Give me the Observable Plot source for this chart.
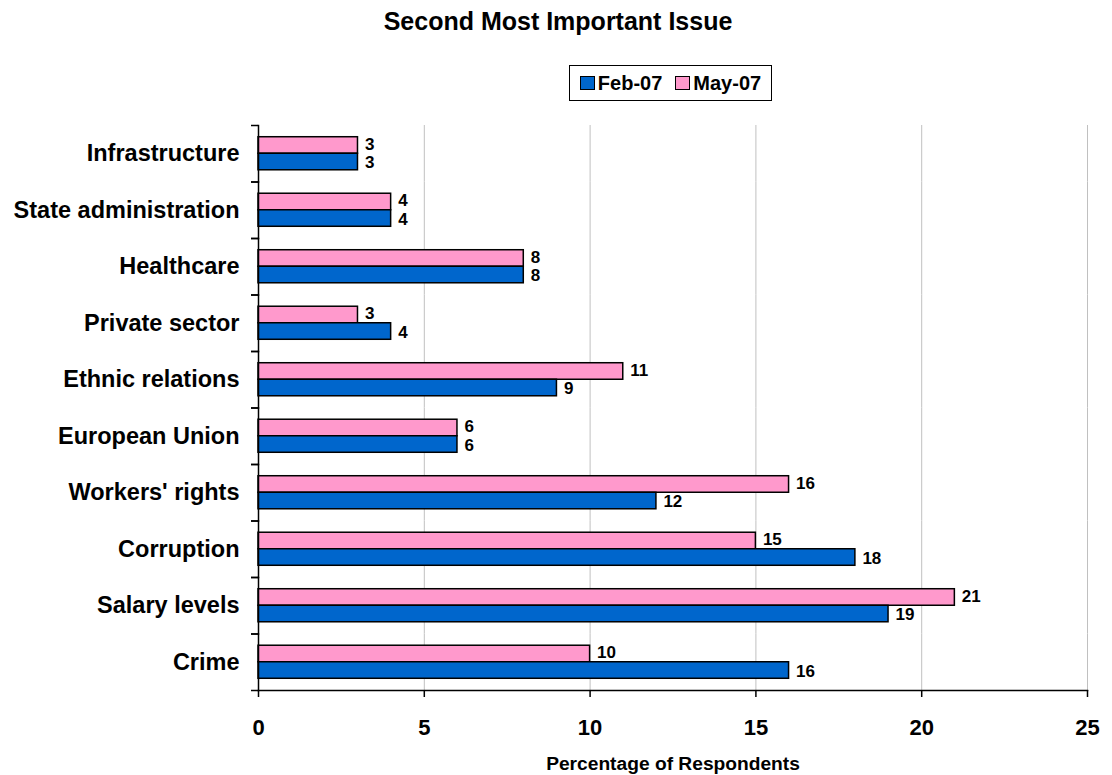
<!DOCTYPE html>
<html>
<head>
<meta charset="utf-8">
<script src="https://cdn.jsdelivr.net/npm/d3@7"></script>
<script src="https://cdn.jsdelivr.net/npm/@observablehq/plot@0.6"></script>
<style>
  body { margin: 0; background: #fff; font-family: "Liberation Sans", Arial, sans-serif; }
  #wrap { position: relative; width: 1112px; height: 775px; }
  #title { position: absolute; left: 0; top: 1px; width: 1116px; height: 40px; line-height: 40px;
           text-align: center; font-weight: bold; font-size: 25px; color: #000; }
  #legend { position: absolute; left: 569px; top: 65px; width: 201px; height: 34px;
            border: 1.5px solid #000; display: flex; align-items: center; justify-content: center;
            gap: 13px; font-weight: bold; font-size: 20px; color: #000; }
  #legend .item { display: flex; align-items: center; }
  #legend span.sw { display: inline-block; width: 13px; height: 12px; border: 1.5px solid #000;
                    margin-right: 3px; }
  #chart { position: absolute; left: 0; top: 110px; }
</style>
</head>
<body>
<div id="wrap">
  <div id="title">Second Most Important Issue</div>
  <div id="legend"></div>
  <div id="chart"></div>
</div>
<script>
// Issues, listed top to bottom
const categories = [
  "Infrastructure", "State administration", "Healthcare", "Private sector",
  "Ethnic relations", "European Union", "Workers' rights", "Corruption",
  "Salary levels", "Crime"
];
const seriesNames = ["Feb-07", "May-07"];
const feb07 = [3, 4, 8, 4, 9, 6, 12, 18, 19, 16];
const may07 = [3, 4, 8, 3, 11, 6, 16, 15, 21, 10];
const colors = ["#0066CC", "#FF99CC"];
const xTicks = [0, 5, 10, 15, 20, 25];

const rows = categories.flatMap((c, i) => [
  {category: c, series: "May-07", value: may07[i]},
  {category: c, series: "Feb-07", value: feb07[i]}
]);
const mayRows = rows.filter(d => d.series === "May-07");
const febRows = rows.filter(d => d.series === "Feb-07");

// Legend
const legend = document.getElementById("legend");
seriesNames.forEach((s, i) => {
  const item = document.createElement("div");
  item.className = "item";
  item.innerHTML = `<span class="sw" style="background:${colors[i]}"></span>${s}`;
  legend.appendChild(item);
});

const font = {fontFamily: "Liberation Sans, Arial, sans-serif", fontWeight: "bold"};
const half = 56.5 / 2; // half a category band, for the boundary ticks
const valueLabel = {
  x: "value", y: "series", fy: "category", text: "value",
  textAnchor: "start", dx: 7, fontSize: 17, ...font, fill: "#000"
};

const chart = Plot.plot({
  width: 1112,
  height: 665,
  marginTop: 15,
  marginBottom: 85,
  marginLeft: 258,
  marginRight: 25,
  style: {fontFamily: "Liberation Sans, Arial, sans-serif", color: "#000", background: "#fff"},
  x: {domain: [0, 25]},
  fy: {domain: categories, padding: 0, round: false},
  y: {domain: ["May-07", "Feb-07"], paddingInner: 0, paddingOuter: 0.71, round: false, axis: null},
  color: {domain: seriesNames, range: colors},
  marks: [
    Plot.gridX({ticks: xTicks.slice(1), stroke: "#c0c0c0", strokeOpacity: 1, strokeWidth: 1}),
    Plot.barX(rows, {
      x: "value", y: "series", fy: "category", fill: "series",
      stroke: "#000", strokeWidth: 1.5
    }),
    // value labels, nudged apart so the two in a pair don't collide
    Plot.text(mayRows, {...valueLabel, dy: -1}),
    Plot.text(febRows, {...valueLabel, dy: 1}),
    // axis lines
    Plot.frame({anchor: "left", stroke: "#000", strokeWidth: 1.5}),
    Plot.frame({anchor: "bottom", facetAnchor: "bottom", stroke: "#000", strokeWidth: 1.5}),
    // category labels
    Plot.axisFy({anchor: "left", tickSize: 0, tickPadding: 19, fontSize: 23.5, ...font, label: null}),
    // tick marks on the category boundaries
    Plot.axisFy({anchor: "left", tickSize: 7, tickFormat: () => "", label: null, dy: -half, strokeWidth: 1.5}),
    Plot.axisFy({anchor: "left", tickSize: 7, tickFormat: () => "", label: null, dy: half, strokeWidth: 1.5}),
    // value axis
    Plot.axisX({anchor: "bottom", ticks: xTicks, tickSize: 7, tickPadding: 22, fontSize: 22, ...font, label: null, strokeWidth: 1.5}),
    Plot.text(["Percentage of Respondents"], {
      frameAnchor: "bottom", facetAnchor: "bottom", dy: 79, fontSize: 19.2, ...font, fill: "#000"
    })
  ]
});
document.getElementById("chart").appendChild(chart);
</script>
</body>
</html>
